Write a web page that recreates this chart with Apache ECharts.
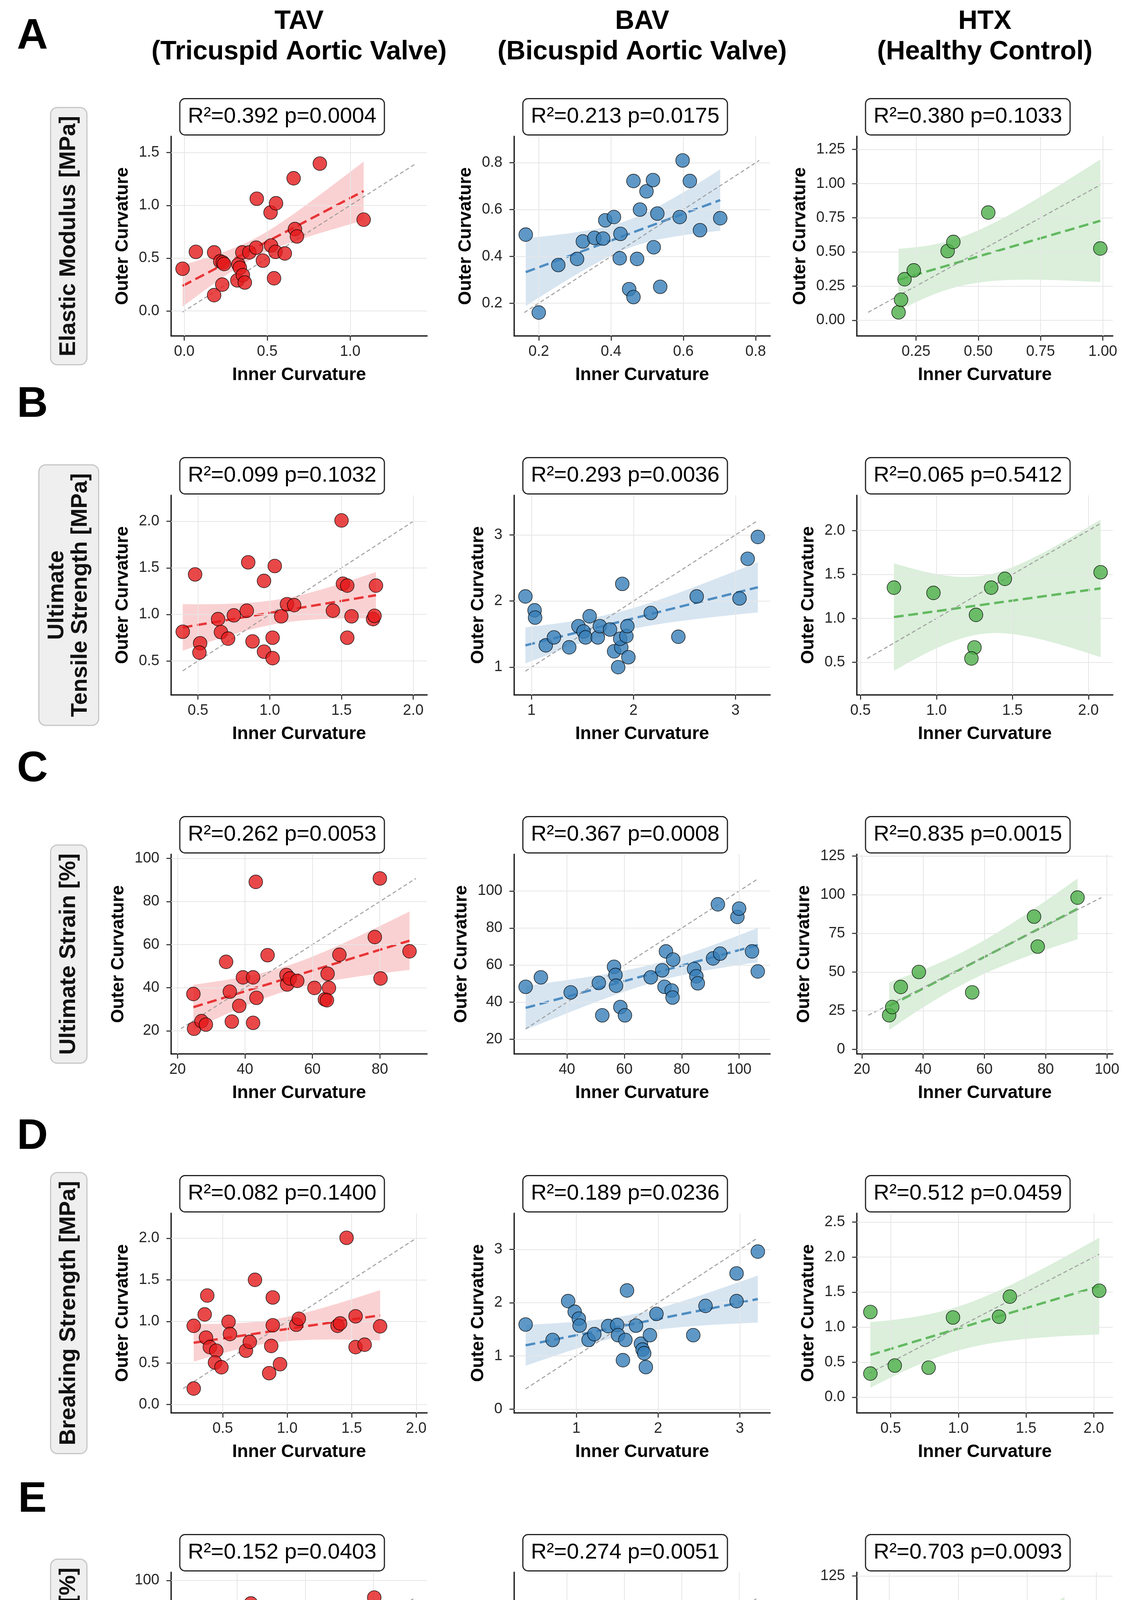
<!DOCTYPE html>
<html><head><meta charset="utf-8">
<script src="https://cdn.jsdelivr.net/npm/echarts@6/dist/echarts.min.js"></script>
<style>html,body{margin:0;padding:0;background:#fff}#chart{width:2887px;height:5592px}</style>
</head><body><div id="chart"></div>
<script>
// ---------- labels ----------
const groupNames = ['TAV\n(Tricuspid Aortic Valve)', 'BAV\n(Bicuspid Aortic Valve)', 'HTX\n(Healthy Control)'];
const groupColors = ['#e41a1c', '#377eb8', '#4daf4a'];
const rowLetters = ['A', 'B', 'C', 'D', 'E', 'F'];
const metricNames = ['Elastic Modulus [MPa]', 'Ultimate\nTensile Strength [MPa]', 'Ultimate Strain [%]', 'Breaking Strength [MPa]', 'Breaking Strain [%]', 'Thickness [mm]'];
const xAxisTitle = 'Inner Curvature';
const yAxisTitle = 'Outer Curvature';
const statElastic = ['R²=0.392 p=0.0004', 'R²=0.213 p=0.0175', 'R²=0.380 p=0.1033'];
const statUTS = ['R²=0.099 p=0.1032', 'R²=0.293 p=0.0036', 'R²=0.065 p=0.5412'];
const statStrain = ['R²=0.262 p=0.0053', 'R²=0.367 p=0.0008', 'R²=0.835 p=0.0015'];
const statBS = ['R²=0.082 p=0.1400', 'R²=0.189 p=0.0236', 'R²=0.512 p=0.0459'];
const statBStrain = ['R²=0.152 p=0.0403', 'R²=0.274 p=0.0051', 'R²=0.703 p=0.0093'];
const statThick = ['R²=0.263 p=0.0052', 'R²=0.279 p=0.0046', 'R²=0.282 p=0.1757'];

// ---------- points [inner, outer] ----------
const elasticTAV = [[-0.01,0.40],[0.07,0.56],[0.18,0.555],[0.18,0.15],[0.217,0.47],[0.232,0.46],[0.24,0.445],[0.229,0.25],[0.32,0.29],[0.326,0.44],[0.335,0.41],[0.35,0.555],[0.353,0.34],[0.365,0.27],[0.392,0.555],[0.433,0.60],[0.437,1.063],[0.474,0.477],[0.52,0.933],[0.523,0.62],[0.55,0.56],[0.553,1.02],[0.541,0.31],[0.606,0.545],[0.659,1.257],[0.667,0.776],[0.679,0.706],[0.817,1.396],[1.081,0.865]];
const elasticBAV = [[0.164,0.493],[0.20,0.16],[0.254,0.363],[0.306,0.389],[0.322,0.464],[0.354,0.479],[0.378,0.476],[0.384,0.554],[0.408,0.568],[0.424,0.392],[0.426,0.496],[0.45,0.26],[0.462,0.226],[0.462,0.722],[0.472,0.389],[0.48,0.60],[0.498,0.678],[0.516,0.726],[0.518,0.439],[0.528,0.583],[0.536,0.27],[0.59,0.568],[0.598,0.81],[0.618,0.722],[0.646,0.512],[0.702,0.563]];
const elasticHTX = [[0.18,0.058],[0.19,0.15],[0.204,0.30],[0.241,0.365],[0.377,0.506],[0.40,0.573],[0.54,0.788],[0.99,0.525]];
const utsTAV = [[0.394,0.814],[0.48,1.43],[0.515,0.69],[0.51,0.59],[0.64,0.95],[0.66,0.81],[0.71,0.74],[0.75,0.99],[0.84,1.04],[0.85,1.56],[0.88,0.71],[0.96,1.36],[0.96,0.60],[1.02,0.75],[1.02,0.53],[1.035,1.52],[1.08,0.98],[1.12,1.11],[1.17,1.10],[1.44,1.04],[1.50,2.01],[1.51,1.33],[1.54,1.31],[1.54,0.75],[1.57,0.98],[1.72,0.95],[1.73,0.985],[1.74,1.31]];
const utsBAV = [[0.94,2.07],[1.03,1.86],[1.035,1.75],[1.14,1.33],[1.22,1.45],[1.37,1.30],[1.46,1.62],[1.51,1.54],[1.53,1.45],[1.57,1.77],[1.65,1.45],[1.67,1.62],[1.77,1.57],[1.81,1.24],[1.85,1.00],[1.88,1.30],[1.89,2.26],[1.87,1.43],[1.93,1.47],[1.94,1.62],[1.95,1.15],[2.17,1.82],[2.44,1.46],[2.62,2.07],[3.04,2.04],[3.12,2.64],[3.22,2.97]];
const utsHTX = [[0.72,1.35],[0.98,1.29],[1.26,1.04],[1.25,0.67],[1.23,0.545],[1.36,1.35],[1.45,1.45],[2.08,1.525]];
const strainTAV = [[24.7,37.1],[24.9,21.0],[27.1,24.5],[28.4,22.9],[34.4,52.0],[35.5,38.2],[36.1,24.3],[38.3,31.6],[39.4,44.8],[42.4,44.8],[42.4,23.7],[43.2,89.1],[43.4,35.3],[46.7,55.1],[52.3,45.9],[52.5,41.5],[53.3,44.3],[55.5,43.2],[60.6,39.9],[63.7,34.6],[64.5,46.5],[64.9,39.9],[64.3,34.2],[68.0,55.3],[78.5,63.5],[80.0,90.7],[80.2,44.3],[88.8,56.9]];
const strainBAV = [[25.6,48.3],[30.9,53.4],[41.3,45.3],[52.3,32.9],[51.1,50.4],[56.4,59.1],[56.9,54.7],[57.1,48.9],[58.6,37.4],[60.2,32.9],[69.2,53.4],[73.2,57.2],[74.0,48.3],[74.5,67.4],[76.5,46.3],[76.8,42.5],[77.0,63.0],[84.3,57.9],[85.1,54.0],[85.6,50.2],[90.9,63.6],[93.4,66.2],[92.6,92.8],[99.4,86.0],[100.0,90.5],[104.5,67.4],[106.5,56.6]];
const strainHTX = [[28.9,22.1],[29.9,27.4],[32.7,40.4],[38.6,50.1],[56.0,36.9],[76.2,85.9],[77.4,66.5],[90.4,98.2]];
const bsTAV = [[0.275,0.193],[0.275,0.947],[0.36,1.084],[0.38,1.311],[0.37,0.805],[0.40,0.691],[0.45,0.648],[0.44,0.506],[0.49,0.449],[0.545,0.995],[0.556,0.848],[0.68,0.648],[0.71,0.754],[0.75,1.50],[0.86,0.378],[0.876,0.705],[0.888,1.288],[0.888,0.953],[0.944,0.486],[1.07,0.96],[1.09,1.032],[1.39,0.947],[1.41,0.976],[1.46,2.005],[1.53,1.061],[1.53,0.691],[1.60,0.72],[1.72,0.941]];
const bsBAV = [[0.38,1.59],[0.71,1.30],[0.90,2.03],[0.98,1.83],[1.03,1.70],[1.04,1.57],[1.15,1.30],[1.22,1.41],[1.39,1.56],[1.50,1.58],[1.51,1.39],[1.57,0.92],[1.60,1.30],[1.62,2.23],[1.73,1.57],[1.79,1.23],[1.81,1.12],[1.83,1.05],[1.85,0.79],[1.90,1.39],[1.98,1.79],[2.43,1.39],[2.58,1.94],[2.96,2.03],[2.96,2.55],[3.22,2.96]];
const bsHTX = [[0.35,0.338],[0.35,1.216],[0.53,0.453],[0.78,0.422],[0.96,1.138],[1.30,1.149],[1.38,1.436],[2.04,1.52]];
const bstrainTAV = [[32.8,38.1],[33.8,26.2],[34.5,32.3],[35.7,37.8],[40.6,35.2],[41.3,52.7],[42.6,44.8],[43.6,47.0],[44.0,89.5],[43.6,29.8],[44.7,30.3],[47.0,55.3],[47.9,47.3],[48.5,23.9],[52.1,65.1],[54.9,43.8],[56.0,44.8],[57.0,48.4],[61.3,40.5],[64.5,40.5],[65.1,40.0],[68.9,46.7],[74.9,37.1],[80.2,92.2],[80.2,44.3],[81.1,63.7],[89.8,55.1],[90.9,57.2]];
const bstrainBAV = [[25.6,62.0],[30.9,52.7],[41.3,45.5],[51.1,50.2],[55.1,33.0],[56.4,59.5],[57.1,55.0],[57.9,48.9],[58.9,37.5],[68.2,33.0],[73.5,62.9],[74.8,48.7],[76.3,68.0],[76.8,43.6],[77.0,48.0],[77.0,63.3],[77.0,53.1],[84.8,60.1],[85.1,55.7],[85.6,51.5],[90.9,65.9],[93.4,67.1],[93.4,93.0],[98.9,85.9],[100.2,91.3],[104.5,72.2],[106.5,56.9]];
const bstrainHTX = [[33.9,39.3],[36.9,34.0],[38.7,52.1],[46.5,48.3],[64.7,37.8],[77.0,85.9],[77.9,65.9],[90.8,101.7]];
const thickTAV = [[1.30,1.365],[1.395,1.32],[1.41,1.312],[1.41,1.635],[1.48,1.417],[1.57,1.34],[1.585,1.447],[1.60,1.38],[1.60,1.556],[1.61,1.568],[1.64,1.77],[1.65,1.222],[1.67,1.372],[1.69,2.059],[1.716,1.40],[1.73,1.553],[1.76,1.155],[1.76,1.568],[1.764,1.47],[1.77,1.447],[1.79,1.52],[1.807,1.432],[1.87,1.856],[1.99,1.818],[2.02,1.99],[2.063,2.025],[2.065,1.886],[2.065,1.347]];
const thickBAV = [[1.20,0.955],[1.215,1.365],[1.287,1.493],[1.363,1.336],[1.37,1.149],[1.43,1.44],[1.536,1.51],[1.54,1.423],[1.588,1.353],[1.595,1.476],[1.61,1.59],[1.616,1.388],[1.626,1.51],[1.678,1.336],[1.678,1.17],[1.692,1.09],[1.75,1.615],[1.768,1.292],[1.772,1.615],[1.81,1.668],[1.806,1.593],[1.83,1.537],[1.858,1.93],[1.896,1.45],[2.066,1.615]];
const thickHTX = [[1.532,1.627],[1.597,1.68],[1.648,1.676],[1.69,1.885],[1.728,1.434],[1.802,1.894],[1.836,1.457],[2.126,2.097]];

// ---------- tick labels ----------
const elasticXTicks = [['0.0','0.5','1.0'], ['0.2','0.4','0.6','0.8'], ['0.25','0.50','0.75','1.00']];
const elasticYTicks = [['0.0','0.5','1.0','1.5'], ['0.2','0.4','0.6','0.8'], ['0.00','0.25','0.50','0.75','1.00','1.25']];
const utsXTicks = [['0.5','1.0','1.5','2.0'], ['1','2','3'], ['0.5','1.0','1.5','2.0']];
const utsYTicks = [['0.5','1.0','1.5','2.0'], ['1','2','3'], ['0.5','1.0','1.5','2.0']];
const strainXTicks = [['20','40','60','80'], ['40','60','80','100'], ['20','40','60','80','100']];
const strainYTicks = [['20','40','60','80','100'], ['20','40','60','80','100'], ['0','25','50','75','100','125']];
const bsXTicks = [['0.5','1.0','1.5','2.0'], ['1','2','3'], ['0.5','1.0','1.5','2.0']];
const bsYTicks = [['0.0','0.5','1.0','1.5','2.0'], ['0','1','2','3'], ['0.0','0.5','1.0','1.5','2.0','2.5']];
const bstrainXTicks = [['40','60','80'], ['40','60','80','100'], ['40','60','80','100']];
const bstrainYTicks = [['20','40','60','80','100'], ['20','40','60','80','100'], ['25','50','75','100','125']];
const thickXTicks = [['1.25','1.50','1.75','2.00'], ['1.00','1.25','1.50','1.75','2.00'], ['1.4','1.6','1.8','2.0']];
const thickYTicks = [['1.00','1.25','1.50','1.75','2.00'], ['1.00','1.25','1.50','1.75','2.00'], ['1.25','1.50','1.75','2.00','2.25','2.50']];

// ---------- axis limits [min, max] ----------
const elasticXLim = [[-0.079,1.463],[0.132,0.84],[0.0125,1.04]];
const elasticYLim = [[-0.236,1.654],[0.06,0.913],[-0.115,1.346]];
const utsXLim = [[0.313,2.096],[0.83,3.34],[0.476,2.16]];
const utsYLim = [[0.135,2.28],[0.58,3.60],[0.13,2.40]];
const strainXLim = [[18.1,94.0],[21.6,110.8],[18.35,101.9]];
const strainYLim = [[9.3,101.9],[12.1,119.8],[-2.9,126.2]];
const bsXLim = [[0.10,2.084],[0.24,3.37],[0.25,2.14]];
const bsYLim = [[-0.10,2.30],[-0.07,3.68],[-0.223,2.625]];
const bstrainXLim = [[20.6,95.7],[21.6,110.8],[30.6,104.8]];
const bstrainYLim = [[12.9,103.7],[12.7,120.3],[0.6,127.4]];
const thickXLim = [[1.108,2.111],[0.90,2.125],[1.398,2.164]];
const thickYLim = [[0.96,2.225],[0.776,2.25],[1.11,2.59]];

// ---------- assembly ----------
const rowsPoints = [[elasticTAV,elasticBAV,elasticHTX],[utsTAV,utsBAV,utsHTX],[strainTAV,strainBAV,strainHTX],[bsTAV,bsBAV,bsHTX],[bstrainTAV,bstrainBAV,bstrainHTX],[thickTAV,thickBAV,thickHTX]];
const rowsStats = [statElastic,statUTS,statStrain,statBS,statBStrain,statThick];
const rowsXTicks = [elasticXTicks,utsXTicks,strainXTicks,bsXTicks,bstrainXTicks,thickXTicks];
const rowsYTicks = [elasticYTicks,utsYTicks,strainYTicks,bsYTicks,bstrainYTicks,thickYTicks];
const rowsXLim = [elasticXLim,utsXLim,strainXLim,bsXLim,bstrainXLim,thickXLim];
const rowsYLim = [elasticYLim,utsYLim,strainYLim,bsYLim,bstrainYLim,thickYLim];

// layout (pixels)
const FONT = '"Liberation Sans", Arial, sans-serif';
const colLeft = [438, 1316, 2193];
const gridW = 655, gridH = 511, top0 = 349, rowPitch = 919;
const letterY = [94, 1037, 1970, 2911, 3840, 4778];

const T975 = [0,12.706,4.303,3.182,2.776,2.571,2.447,2.365,2.306,2.262,2.228,2.201,2.179,2.160,2.145,2.131,2.120,2.110,2.101,2.093,2.086,2.080,2.074,2.069,2.064,2.060,2.056,2.052,2.048,2.045,2.042];

function regression(pts) {
  const n = pts.length;
  let mx = 0, my = 0;
  pts.forEach(p => { mx += p[0]; my += p[1]; });
  mx /= n; my /= n;
  let sxx = 0, sxy = 0;
  pts.forEach(p => { sxx += (p[0]-mx)*(p[0]-mx); sxy += (p[0]-mx)*(p[1]-my); });
  const b = sxy / sxx, a = my - b*mx;
  let sse = 0;
  pts.forEach(p => { const r = p[1] - (a + b*p[0]); sse += r*r; });
  const s = Math.sqrt(sse / (n-2));
  const t = T975[Math.min(n-2, 30)];
  const xs = pts.map(p => p[0]);
  const x0 = Math.min(...xs), x1 = Math.max(...xs);
  const band = [];
  const steps = 80;
  for (let i = 0; i <= steps; i++) {
    const x = x0 + (x1-x0)*i/steps;
    const yh = a + b*x;
    const se = s*Math.sqrt(1/n + (x-mx)*(x-mx)/sxx);
    band.push([x, yh - t*se, yh + t*se]);
  }
  return {line: [[x0, a+b*x0], [x1, a+b*x1]], band};
}
function rgba(hex, al) {
  const v = parseInt(hex.slice(1), 16);
  return 'rgba(' + ((v>>16)&255) + ',' + ((v>>8)&255) + ',' + (v&255) + ',' + al + ')';
}
const charW = {'.':0.278,'-':0.584};
function labelWidth(s, fs) { let w = 0; for (const ch of s) w += (charW[ch] || 0.556); return w*fs; }

const grids = [], xAxes = [], yAxes = [], series = [], graphics = [];
const TICK_FS = 38, NAME_FS = 46;

for (let r = 0; r < 6; r++) {
  const top = top0 + r*rowPitch;
  graphics.push({type:'text', x:83, y:letterY[r], style:{text:rowLetters[r], fontSize:110, fontWeight:'bold', fontFamily:FONT, fill:'#000', align:'center', verticalAlign:'middle'}});
  graphics.push({type:'text', x:176, y:top + gridH/2, rotation:Math.PI/2, style:{text:metricNames[r], fontSize:58, fontWeight:'bold', fontFamily:FONT, lineHeight:60, fill:'#111', align:'center', verticalAlign:'middle', backgroundColor:'#efefef', borderColor:'#c6c6c6', borderWidth:3, borderRadius:16, padding:[15,20]}});
  for (let c = 0; c < 3; c++) {
    const idx = r*3 + c;
    const left = colLeft[c];
    const pts = rowsPoints[r][c];
    const color = groupColors[c];
    const xl = rowsXTicks[r][c], yl = rowsYTicks[r][c];
    const xv = xl.map(Number), yv = yl.map(Number);
    const xLim = rowsXLim[r][c], yLim = rowsYLim[r][c];
    const fmt = labels => (v => { for (const s of labels) if (Math.abs(Number(s) - v) < 1e-9) return s; return ''; });
    grids.push({left:left, top:top, width:gridW, height:gridH, containLabel:false, outerBoundsMode:'none'});
    const yLabW = Math.max(...yl.map(s => labelWidth(s, TICK_FS)));
    xAxes.push({type:'value', gridIndex:idx, min:xLim[0], max:xLim[1],
      axisLine:{show:true, onZero:false, lineStyle:{color:'#222', width:3.5}},
      axisTick:{show:true, customValues:xv, length:12, lineStyle:{color:'#222', width:2.5}},
      axisLabel:{show:true, customValues:xv, formatter:fmt(xl), fontSize:TICK_FS, fontFamily:FONT, color:'#262626', margin:22},
      splitLine:{show:false},
      name:xAxisTitle, nameLocation:'middle', nameGap:77, nameMoveOverlap:false,
      nameTextStyle:{fontSize:NAME_FS, fontWeight:'bold', fontFamily:FONT, color:'#000'}});
    yAxes.push({type:'value', gridIndex:idx, min:yLim[0], max:yLim[1],
      axisLine:{show:true, onZero:false, lineStyle:{color:'#222', width:3.5}},
      axisTick:{show:true, customValues:yv, length:12, lineStyle:{color:'#222', width:2.5}},
      axisLabel:{show:true, customValues:yv, formatter:fmt(yl), fontSize:TICK_FS, fontFamily:FONT, color:'#262626', margin:30},
      splitLine:{show:false},
      name:yAxisTitle, nameLocation:'middle', nameRotate:90, nameGap:48 + yLabW, nameMoveOverlap:false,
      nameTextStyle:{fontSize:NAME_FS, fontWeight:'bold', fontFamily:FONT, color:'#000'}});

    const gridLineData = xv.map(v => ({xAxis:v})).concat(yv.map(v => ({yAxis:v})));
    series.push({type:'line', xAxisIndex:idx, yAxisIndex:idx, data:[[xLim[0], yLim[0]]], symbol:'none', silent:true, z:1,
      lineStyle:{opacity:0},
      markLine:{silent:true, symbol:['none','none'], label:{show:false}, animation:false,
        lineStyle:{color:'#e6e6e6', width:2, type:'solid'}, data:gridLineData}});

    const reg = regression(pts);
    const band = reg.band;
    series.push({type:'custom', xAxisIndex:idx, yAxisIndex:idx, data:band, z:2, silent:true,
      dimensions:['x','lo','hi'], encode:{x:'x', y:['lo','hi']},
      renderItem:(params, api) => {
        if (params.dataIndex !== 0) return null;
        const up = band.map(d => api.coord([d[0], d[2]]));
        const lo = band.map(d => api.coord([d[0], d[1]])).reverse();
        return {type:'polygon', shape:{points:up.concat(lo)}, style:{fill:rgba(color, 0.2), stroke:null}};
      }});

    series.push({type:'line', xAxisIndex:idx, yAxisIndex:idx, data:reg.line, symbol:'none', silent:true, z:3,
      lineStyle:{color:color, width:6, type:[25,12], opacity:0.85, cap:'butt'}});

    const all = pts.flat();
    const m = Math.min(...all), M = Math.max(...all);
    series.push({type:'line', xAxisIndex:idx, yAxisIndex:idx, data:[[m,m],[M,M]], symbol:'none', silent:true, z:4,
      lineStyle:{color:'#999999', width:2.7, type:[10,6.5], opacity:0.9}});

    series.push({type:'scatter', xAxisIndex:idx, yAxisIndex:idx, data:pts, symbolSize:35, z:6,
      itemStyle:{color:color, opacity:0.8, borderColor:'#000', borderWidth:1.6}});

    graphics.push({type:'text', x:left + 14 + 270, y:top - 50, z:10, style:{text:rowsStats[r][c], fontSize:56, fontFamily:FONT, fill:'#000', align:'center', verticalAlign:'middle', lineHeight:58, backgroundColor:'#fff', borderColor:'#222', borderWidth:3, borderRadius:12, padding:[16,19]}});
  }
}
for (let c = 0; c < 3; c++) {
  graphics.push({type:'text', x:colLeft[c] + gridW/2, y:16, style:{text:groupNames[c], fontSize:68, fontWeight:'bold', fontFamily:FONT, lineHeight:78, fill:'#000', align:'center', verticalAlign:'top'}});
}

const chart = echarts.init(document.getElementById('chart'), null, {renderer:'canvas'});
chart.setOption({
  animation:false,
  backgroundColor:'#fff',
  grid:grids, xAxis:xAxes, yAxis:yAxes, series:series, graphic:graphics
});
</script></body></html>
